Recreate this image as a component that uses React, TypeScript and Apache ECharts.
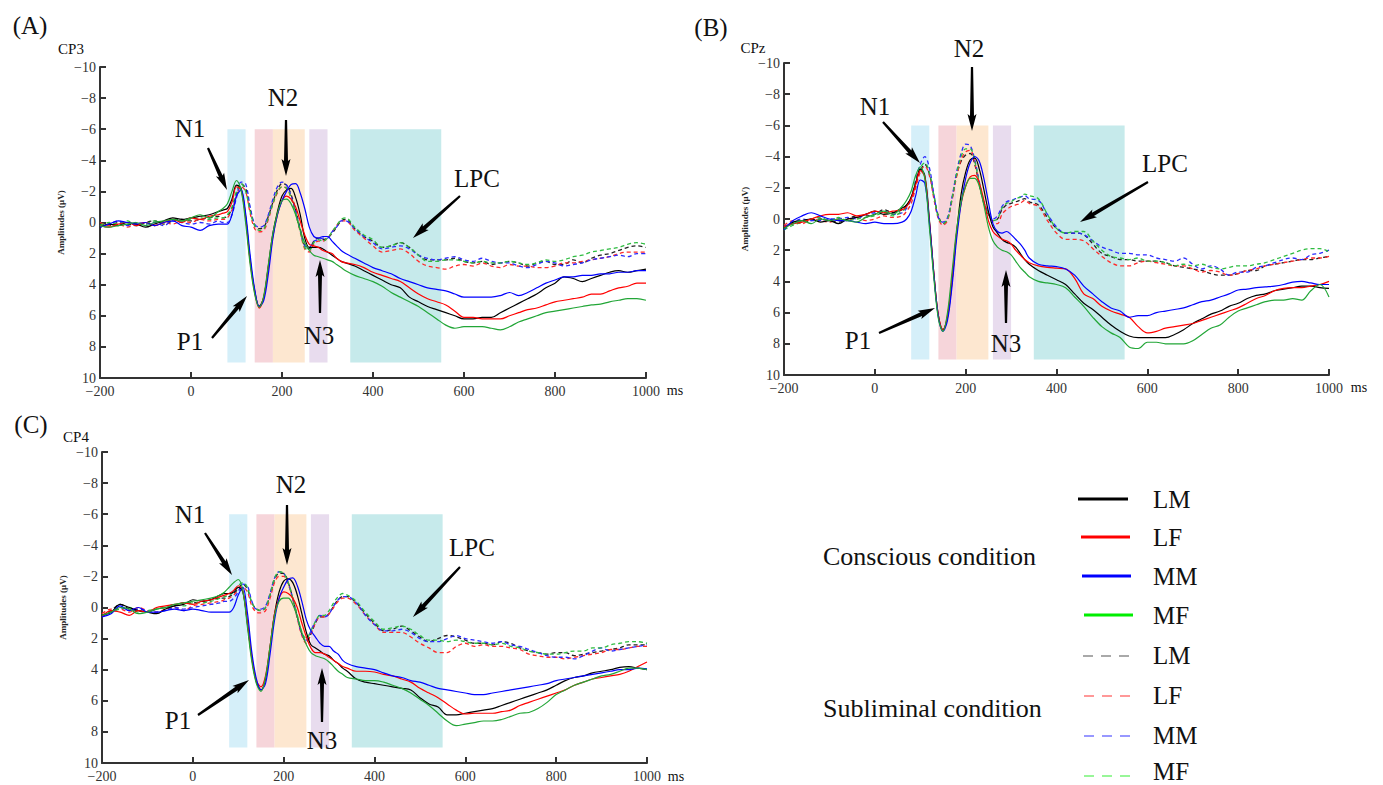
import React, { useEffect, useRef } from "react";
import * as echarts from "echarts";

// time points (ms)
const T = [
  -200, -180, -160, -140, -120, -100, -80, -60, -40, -20, 0, 20, 40,
  60, 70, 80, 90, 100, 110, 120, 130, 140, 150, 160, 170, 180, 190, 200, 210, 220, 230, 240, 250, 260, 270, 280, 290, 300, 310, 320, 330, 340,
  360, 380, 400, 420, 440, 460, 480, 500, 520, 540, 560, 580, 600, 620, 640, 660, 680, 700, 720, 740, 760, 780, 800, 820, 840, 860, 880, 900, 920, 940, 960, 980, 1000,
];

const xTicks = [-200, 0, 200, 400, 600, 800, 1000];
const yTicks = [-10, -8, -6, -4, -2, 0, 2, 4, 6, 8, 10];

// ---------- Panel A (CP3) ----------
const A_LM_c = [
  0.3, 0.1, 0.2, 0.0, 0.1, 0.3, 0.1, -0.1, -0.3, -0.2, -0.3, -0.4, -0.5,
  -0.7, -0.8, -0.9, -1.5, -2.4, -2.2, -0.4, 2.4, 4.4, 5.4, 4.8, 2.8, 0.7, -0.7, -1.7, -2.1, -2.2, -1.6, -0.5, 1.0, 1.6, 1.6, 1.6, 1.7, 1.9, 2.1, 2.3, 2.5, 2.6,
  2.8, 3.1, 3.4, 3.7, 4.0, 4.2, 4.8, 5.1, 5.4, 5.6, 5.8, 6.0, 6.2, 6.2, 6.1, 6.1, 5.8, 5.5, 5.2, 4.9, 4.6, 4.2, 3.9, 3.5, 3.6, 3.8, 3.6, 3.4, 3.2, 3.1, 3.2, 3.1, 3.0,
];
const A_LF_c = [
  0.2, 0.3, 0.1, 0.0, 0.2, 0.0, 0.2, 0.0, -0.2, 0.0, -0.3, -0.2, -0.4,
  -0.5, -0.6, -0.7, -1.3, -2.3, -2.1, -0.3, 2.5, 4.5, 5.5, 4.8, 2.9, 0.9, -0.5, -1.4, -1.7, -1.5, -1.0, -0.1, 0.8, 1.4, 1.5, 1.6, 1.8, 1.9, 2.0, 2.3, 2.5, 2.6,
  2.7, 2.9, 3.2, 3.4, 3.6, 3.8, 4.2, 4.6, 4.9, 5.1, 5.3, 5.7, 6.1, 6.1, 6.2, 6.2, 6.2, 6.0, 5.8, 5.6, 5.5, 5.3, 5.1, 5.0, 4.9, 4.8, 4.6, 4.6, 4.4, 4.2, 4.1, 3.9, 3.9,
];
const A_MM_c = [
  0.3, 0.1, -0.1, 0.0, 0.1, 0.0, 0.2, 0.0, -0.1, 0.2, 0.3, 0.5, 0.2,
  0.1, 0.1, 0.1, -0.5, -1.7, -2.1, -0.6, 2.1, 4.3, 5.4, 5.0, 3.3, 1.0, -0.5, -1.4, -2.0, -2.45, -2.5, -1.9, -0.9, 0.3, 0.9, 1.0, 0.9, 0.9, 1.2, 1.5, 1.8, 2.0,
  2.3, 2.6, 2.9, 3.1, 3.3, 3.6, 3.8, 4.0, 4.2, 4.3, 4.4, 4.6, 4.8, 4.8, 4.8, 4.8, 4.7, 4.5, 4.7, 4.5, 4.2, 3.9, 3.7, 3.5, 3.5, 3.4, 3.4, 3.3, 3.3, 3.2, 3.2, 3.1, 3.1,
];
const A_MF_c = [
  0.2, 0.3, 0.2, 0.1, 0.0, 0.2, 0.0, -0.1, -0.2, -0.1, -0.3, -0.5, -0.3,
  -0.7, -0.9, -1.2, -2.0, -2.7, -2.1, 0.0, 2.7, 4.6, 5.45, 4.7, 2.7, 0.7, -0.6, -1.4, -1.5, -1.2, -0.5, 0.5, 1.3, 1.8, 2.1, 2.2, 2.3, 2.4, 2.5, 2.7, 2.9, 3.1,
  3.4, 3.6, 3.8, 4.1, 4.5, 4.8, 5.1, 5.4, 5.8, 6.2, 6.6, 6.8, 6.7, 6.7, 6.7, 6.8, 6.9, 6.7, 6.4, 6.2, 6.0, 5.8, 5.7, 5.6, 5.5, 5.4, 5.3, 5.25, 5.1, 5.0, 4.9, 4.9, 5.0,
];
const A_LM_s = [
  0.1, 0.2, 0.0, 0.1, 0.2, 0.0, -0.1, 0.1, -0.1, -0.2, -0.1, -0.2, -0.3,
  -0.4, -0.3, -0.4, -0.9, -1.8, -2.5, -2.2, -0.9, 0.2, 0.4, 0.3, -0.4, -1.3, -2.1, -2.5, -2.4, -1.8, -0.8, 0.4, 1.5, 1.7, 1.2, 1.0, 1.1, 1.0, 0.7, 0.3, -0.1, -0.2,
  0.4, 0.9, 1.2, 1.6, 1.5, 1.3, 1.6, 2.1, 2.4, 2.4, 2.4, 2.3, 2.5, 2.6, 2.5, 2.7, 2.6, 2.5, 2.6, 2.8, 2.6, 2.5, 2.7, 2.7, 2.4, 2.6, 2.3, 2.1, 2.0, 1.8, 1.6, 1.5, 1.6,
];
const A_LF_s = [
  0.0, 0.2, 0.1, 0.3, 0.1, 0.0, 0.2, 0.0, 0.1, -0.1, 0.0, -0.2, -0.1,
  -0.2, -0.2, -0.3, -0.8, -1.7, -2.3, -2.0, -0.6, 0.4, 0.6, 0.5, -0.2, -1.2, -1.9, -2.3, -2.2, -1.6, -0.6, 0.6, 1.7, 1.9, 1.4, 1.2, 1.2, 1.0, 0.6, 0.2, -0.1, -0.1,
  0.5, 1.0, 1.5, 1.9, 1.8, 1.7, 2.0, 2.5, 2.8, 2.9, 3.0, 2.8, 2.7, 2.8, 2.6, 2.8, 2.9, 2.7, 2.8, 2.8, 2.9, 2.9, 2.8, 2.6, 2.6, 2.5, 2.4, 2.3, 2.2, 2.0, 1.9, 1.9, 1.9,
];
const A_MM_s = [
  0.3, 0.1, -0.1, 0.2, 0.0, 0.1, 0.0, 0.2, -0.1, 0.0, 0.1, 0.0, 0.1,
  -0.1, 0.0, 0.0, -0.5, -1.6, -2.6, -2.5, -1.0, 0.1, 0.3, 0.2, -0.5, -1.5, -2.3, -2.6, -2.4, -1.7, -0.7, 0.5, 1.5, 1.6, 1.2, 1.1, 1.0, 1.0, 0.6, 0.3, -0.1, -0.1,
  0.4, 0.9, 1.3, 1.7, 1.6, 1.5, 1.7, 2.1, 2.3, 2.4, 2.3, 2.2, 2.4, 2.5, 2.3, 2.5, 2.6, 2.6, 2.8, 2.9, 2.7, 2.5, 2.6, 2.8, 2.7, 2.6, 2.4, 2.3, 2.2, 2.1, 2.2, 2.0, 2.0,
];
const A_MF_s = [
  0.2, 0.0, 0.1, -0.1, 0.2, 0.1, -0.1, 0.0, -0.2, -0.1, -0.2, -0.3, -0.2,
  -0.3, -0.3, -0.5, -1.0, -2.0, -2.5, -2.0, -0.7, 0.2, 0.5, 0.4, -0.3, -1.2, -2.0, -2.3, -2.2, -1.6, -0.6, 0.5, 1.6, 1.8, 1.3, 1.1, 1.2, 1.0, 0.6, 0.2, -0.2, -0.3,
  0.3, 0.8, 1.1, 1.6, 1.5, 1.3, 1.6, 2.1, 2.5, 2.5, 2.4, 2.4, 2.5, 2.6, 2.5, 2.6, 2.6, 2.5, 2.6, 2.7, 2.6, 2.4, 2.5, 2.4, 2.2, 2.1, 1.9, 1.8, 1.7, 1.6, 1.4, 1.3, 1.4,
];

// ---------- Panel B (CPz) ----------
const B_LM_c = [
  0.6, 0.2, 0.1, 0.0, 0.2, 0.1, 0.3, 0.0, -0.1, -0.3, -0.5, -0.3, -0.4,
  -0.7, -0.9, -1.4, -2.3, -3.2, -2.8, 0.0, 3.5, 6.2, 7.1, 6.3, 4.0, 0.9, -1.6, -3.0, -3.8, -3.9, -3.2, -1.9, -0.5, 0.5, 0.9, 1.3, 1.5, 1.6, 1.8, 2.2, 2.6, 2.9,
  3.3, 3.6, 3.9, 4.2, 4.8, 5.4, 5.8, 6.3, 6.8, 7.2, 7.5, 7.6, 7.6, 7.6, 7.6, 7.4, 7.1, 6.7, 6.4, 6.1, 5.9, 5.6, 5.4, 5.1, 4.9, 4.8, 4.6, 4.5, 4.4, 4.3, 4.3, 4.4, 4.45,
];
const B_LF_c = [
  0.5, 0.3, 0.2, 0.0, -0.2, -0.3, -0.3, -0.4, -0.2, -0.3, -0.5, -0.4, -0.5,
  -0.6, -0.8, -1.3, -2.2, -3.1, -2.7, 0.1, 3.5, 6.2, 7.1, 6.2, 3.8, 0.9, -1.0, -2.1, -2.7, -2.8, -2.3, -1.2, 0.1, 0.8, 1.1, 1.3, 1.4, 1.6, 2.0, 2.3, 2.6, 2.8,
  3.0, 3.1, 3.15, 3.2, 3.8, 4.8, 5.1, 5.6, 5.9, 6.1, 6.3, 6.9, 7.3, 7.2, 7.0, 6.9, 6.8, 6.7, 6.5, 6.3, 6.1, 5.9, 5.7, 5.4, 5.1, 4.9, 4.6, 4.45, 4.4, 4.4, 4.3, 4.2, 4.0,
];
const B_MM_c = [
  0.7, 0.1, -0.2, -0.4, -0.2, 0.0, 0.1, 0.1, 0.2, 0.3, 0.2, 0.3, 0.3,
  0.2, 0.0, -0.5, -1.5, -2.5, -2.3, 0.2, 3.6, 6.3, 7.2, 6.5, 4.3, 1.3, -1.0, -2.6, -3.6, -4.0, -3.7, -2.6, -1.1, 0.3, 0.8, 0.9, 0.8, 1.0, 1.3, 1.6, 2.0, 2.5,
  2.9, 3.0, 3.05, 3.2, 3.6, 4.3, 4.8, 5.3, 5.7, 5.9, 6.3, 6.2, 6.2, 6.0, 5.9, 5.8, 5.7, 5.5, 5.3, 5.2, 5.0, 4.8, 4.55, 4.5, 4.4, 4.35, 4.3, 4.2, 4.05, 4.0, 4.1, 4.2, 4.2,
];
const B_MF_c = [
  0.6, 0.3, 0.1, 0.3, 0.0, 0.1, 0.0, 0.1, 0.2, -0.1, -0.3, -0.5, -0.3,
  -0.8, -1.2, -1.8, -2.8, -3.35, -2.6, 0.5, 3.8, 6.4, 7.2, 6.0, 3.4, 0.7, -1.1, -2.1, -2.6, -2.6, -2.1, -0.9, 0.5, 1.4, 1.8, 2.0, 2.1, 2.3, 2.7, 3.1, 3.4, 3.7,
  4.0, 4.1, 4.2, 4.4, 5.0, 5.6, 6.3, 6.9, 7.3, 7.6, 8.2, 8.3, 7.9, 7.9, 8.0, 8.0, 8.0, 7.8, 7.4, 7.0, 6.8, 6.3, 5.9, 5.7, 5.5, 5.3, 5.2, 5.2, 5.1, 5.2, 4.6, 4.2, 5.0,
];
const B_LM_s = [
  0.5, 0.3, 0.2, 0.1, 0.0, 0.1, 0.2, 0.0, -0.2, -0.2, -0.3, -0.6, -0.4,
  -0.6, -0.9, -1.3, -2.2, -3.1, -3.5, -2.9, -1.5, -0.2, 0.3, 0.0, -1.3, -2.8, -3.7, -4.1, -4.2, -3.5, -2.2, -1.0, -0.3, 0.1, 0.0, -0.6, -0.9, -1.0, -1.1, -1.2, -1.3, -1.1,
  -0.9, -0.1, 0.6, 0.9, 0.9, 1.0, 1.6, 2.2, 2.4, 2.6, 2.6, 2.7, 2.7, 2.7, 2.8, 3.0, 3.1, 3.2, 3.3, 3.5, 3.6, 3.6, 3.5, 3.3, 3.3, 3.0, 2.9, 2.8, 2.7, 2.6, 2.6, 2.5, 2.4,
];
const B_LF_s = [
  0.4, 0.1, 0.3, 0.0, 0.1, 0.2, 0.0, 0.1, -0.1, 0.1, 0.0, -0.2, -0.1,
  -0.2, -0.5, -1.0, -2.0, -3.0, -3.4, -2.8, -1.3, 0.0, 0.4, 0.1, -1.2, -2.7, -3.8, -4.3, -4.4, -3.6, -2.3, -1.1, -0.4, 0.2, 0.3, -0.3, -0.6, -0.8, -0.9, -1.0, -1.2, -1.0,
  -0.8, 0.1, 0.9, 1.3, 1.3, 1.4, 1.9, 2.4, 2.8, 3.0, 3.0, 2.8, 2.7, 2.8, 2.9, 3.0, 3.0, 3.2, 3.4, 3.3, 3.4, 3.6, 3.5, 3.3, 3.2, 3.0, 2.9, 2.8, 2.7, 2.6, 2.5, 2.5, 2.4,
];
const B_MM_s = [
  0.5, 0.2, 0.0, 0.1, 0.1, 0.0, 0.0, -0.1, 0.0, -0.3, -0.4, -0.5, -0.3,
  -0.4, -0.7, -1.3, -2.5, -3.5, -4.0, -3.3, -1.6, -0.1, 0.2, -0.1, -1.4, -3.0, -4.2, -4.8, -4.7, -3.8, -2.4, -1.1, -0.4, 0.0, -0.2, -0.8, -1.1, -1.2, -1.3, -1.4, -1.5, -1.3,
  -1.2, -0.3, 0.5, 0.9, 0.9, 1.0, 1.4, 1.8, 2.0, 2.2, 2.2, 2.3, 2.3, 2.5, 2.6, 2.7, 2.5, 2.9, 3.2, 3.0, 3.2, 3.6, 3.4, 3.4, 3.1, 3.0, 2.8, 2.6, 2.5, 2.6, 2.3, 2.2, 2.0,
];
const B_MF_s = [
  0.7, 0.4, 0.2, 0.0, -0.1, 0.1, -0.1, 0.1, 0.0, -0.1, -0.2, -0.4, -0.2,
  -0.5, -0.8, -1.4, -2.4, -3.3, -3.6, -3.0, -1.5, -0.1, 0.3, 0.0, -1.3, -2.9, -4.0, -4.5, -4.5, -3.7, -2.3, -1.0, -0.3, 0.1, 0.0, -0.7, -1.0, -1.1, -1.3, -1.4, -1.6, -1.5,
  -1.3, -0.3, 0.6, 0.9, 0.8, 0.8, 1.4, 2.0, 2.4, 2.5, 2.6, 2.5, 2.7, 2.7, 2.8, 3.0, 2.9, 3.0, 2.9, 3.1, 3.2, 3.1, 3.0, 3.0, 2.9, 2.8, 2.6, 2.4, 2.2, 2.0, 1.9, 1.9, 2.1,
];

// ---------- Panel C (CP4) ----------
const C_LM_c = [
  0.5, 0.3, -0.2, 0.0, 0.2, 0.3, 0.4, 0.1, -0.1, -0.2, -0.5, -0.4, -0.5,
  -0.8, -0.9, -0.9, -1.0, -1.3, -1.0, 1.0, 3.3, 4.8, 5.3, 4.6, 2.6, 0.4, -1.0, -1.7, -1.85, -1.6, -0.8, 0.4, 1.6, 2.4, 2.6, 2.8, 3.0, 3.1, 3.4, 3.6, 3.9, 4.1,
  4.6, 4.8, 4.9, 5.0, 5.1, 5.2, 5.3, 5.8, 6.2, 6.4, 6.9, 6.9, 6.8, 6.7, 6.6, 6.5, 6.3, 6.1, 5.9, 5.7, 5.5, 5.3, 5.0, 4.7, 4.5, 4.4, 4.2, 4.1, 4.0, 3.85, 3.8, 3.9, 4.0,
];
const C_LF_c = [
  0.6, 0.2, 0.3, 0.5, 0.2, 0.3, 0.0, -0.1, -0.2, -0.3, -0.2, -0.4, -0.5,
  -0.7, -0.8, -0.9, -1.1, -1.4, -1.1, 0.9, 3.2, 4.7, 5.1, 4.4, 2.5, 0.4, -0.6, -1.0, -0.9, -0.6, 0.0, 1.0, 1.9, 2.6, 2.9, 2.9, 3.0, 3.2, 3.4, 3.6, 3.8, 3.9,
  4.1, 4.1, 4.15, 4.3, 4.4, 4.6, 4.8, 5.2, 5.5, 5.8, 6.2, 6.6, 6.85, 6.8, 6.8, 6.8, 6.7, 6.6, 6.3, 6.1, 5.9, 5.7, 5.5, 5.3, 5.0, 4.8, 4.6, 4.5, 4.4, 4.3, 4.1, 3.8, 3.5,
];
const C_MM_c = [
  0.6, 0.4, -0.1, 0.2, 0.0, 0.3, 0.3, 0.2, 0.1, 0.2, 0.1, 0.2, 0.3,
  0.3, 0.3, 0.3, 0.0, -0.8, -1.3, 0.3, 2.9, 4.6, 5.3, 4.9, 3.0, 0.8, -0.6, -1.3, -1.8, -1.9, -1.4, -0.4, 0.8, 1.5, 1.9, 2.3, 2.5, 2.5, 2.8, 3.0, 3.4, 3.6,
  3.8, 3.9, 4.0, 4.2, 4.4, 4.5, 4.7, 4.8, 5.0, 5.2, 5.3, 5.4, 5.5, 5.6, 5.6, 5.5, 5.4, 5.3, 5.2, 5.1, 5.0, 4.9, 4.7, 4.6, 4.5, 4.4, 4.3, 4.2, 4.1, 4.0, 4.0, 3.9, 3.95,
];
const C_MF_c = [
  0.5, 0.3, 0.0, 0.1, 0.4, 0.3, 0.1, 0.0, -0.2, -0.3, -0.4, -0.5, -0.6,
  -0.8, -1.0, -1.3, -1.6, -1.8, -1.1, 1.2, 3.5, 4.9, 5.4, 4.5, 2.5, 0.5, -0.4, -0.6, -0.6, -0.2, 0.6, 1.6, 2.4, 2.9, 3.1, 3.2, 3.3, 3.5, 3.8, 4.1, 4.3, 4.5,
  4.6, 4.7, 4.7, 4.8, 5.0, 5.2, 5.5, 5.9, 6.3, 6.8, 7.3, 7.6, 7.5, 7.4, 7.3, 7.3, 7.2, 7.0, 6.8, 6.75, 6.5, 6.1, 5.6, 5.3, 5.0, 4.8, 4.6, 4.4, 4.3, 4.1, 3.9, 3.9, 4.0,
];
const C_LM_s = [
  0.5, 0.2, -0.2, 0.1, 0.2, 0.3, 0.1, 0.0, -0.1, -0.3, -0.3, -0.4, -0.5,
  -0.6, -0.6, -0.7, -0.9, -1.2, -1.5, -1.2, -0.3, 0.1, 0.2, 0.0, -0.8, -1.8, -2.2, -2.2, -1.6, -0.6, 0.6, 1.7, 2.2, 1.7, 1.0, 0.6, 0.6, 0.4, -0.1, -0.5, -0.7, -0.7,
  -0.3, 0.4, 1.0, 1.5, 1.4, 1.2, 1.5, 1.9, 2.2, 2.0, 1.8, 1.9, 2.1, 2.3, 2.3, 2.4, 2.2, 2.3, 2.6, 2.8, 2.9, 3.0, 2.9, 2.9, 3.1, 3.0, 2.9, 2.8, 2.7, 2.6, 2.4, 2.4, 2.4,
];
const C_LF_s = [
  0.4, 0.1, 0.1, 0.3, 0.0, 0.2, 0.3, 0.1, 0.0, 0.2, -0.1, -0.2, -0.3,
  -0.4, -0.5, -0.6, -0.8, -1.1, -1.3, -1.0, -0.1, 0.3, 0.35, 0.2, -0.6, -1.6, -2.0, -2.0, -1.5, -0.5, 0.7, 1.8, 2.3, 1.7, 1.0, 0.6, 0.6, 0.4, 0.0, -0.4, -0.6, -0.6,
  -0.2, 0.5, 1.1, 1.6, 1.6, 1.6, 1.9, 2.3, 2.6, 2.9, 2.9, 2.5, 2.3, 2.5, 2.4, 2.5, 2.5, 2.6, 2.7, 3.0, 3.1, 3.2, 3.2, 3.3, 3.2, 3.1, 3.0, 2.9, 2.7, 2.7, 2.6, 2.5, 2.5,
];
const C_MM_s = [
  0.6, 0.3, 0.0, 0.2, 0.1, 0.2, 0.3, 0.2, 0.0, 0.1, 0.0, -0.1, -0.2,
  -0.3, -0.4, -0.4, -0.6, -1.0, -1.5, -1.4, -0.4, 0.1, 0.1, -0.1, -0.9, -1.9, -2.3, -2.2, -1.6, -0.6, 0.6, 1.7, 2.1, 1.5, 0.9, 0.5, 0.6, 0.4, -0.1, -0.5, -0.7, -0.7,
  -0.3, 0.5, 1.1, 1.5, 1.5, 1.4, 1.6, 2.0, 2.2, 2.2, 2.0, 1.8, 2.0, 2.1, 2.2, 2.3, 2.2, 2.4, 2.5, 2.7, 2.9, 3.1, 3.2, 3.2, 3.3, 3.1, 2.8, 2.6, 2.8, 2.7, 2.6, 2.5, 2.4,
];
const C_MF_s = [
  0.5, 0.3, 0.1, 0.0, 0.3, 0.2, 0.1, 0.0, -0.2, -0.1, -0.3, -0.3, -0.4,
  -0.6, -0.7, -0.8, -1.0, -1.4, -1.6, -1.3, -0.3, 0.1, 0.2, 0.0, -0.8, -1.9, -2.3, -2.2, -1.6, -0.6, 0.5, 1.6, 2.0, 1.5, 0.9, 0.5, 0.5, 0.2, -0.3, -0.7, -0.9, -0.8,
  -0.4, 0.3, 0.9, 1.4, 1.3, 1.2, 1.4, 1.8, 2.1, 2.1, 2.2, 2.1, 2.2, 2.3, 2.3, 2.4, 2.3, 2.5, 2.6, 2.8, 2.9, 3.0, 3.0, 2.9, 2.8, 2.8, 2.6, 2.6, 2.4, 2.3, 2.2, 2.2, 2.3,
];

const conditions = ["LM", "LF", "MM", "MF"];
const panels = [
  { letter: "(A)", site: "CP3", conscious: [A_LM_c, A_LF_c, A_MM_c, A_MF_c], subliminal: [A_LM_s, A_LF_s, A_MM_s, A_MF_s] },
  { letter: "(B)", site: "CPz", conscious: [B_LM_c, B_LF_c, B_MM_c, B_MF_c], subliminal: [B_LM_s, B_LF_s, B_MM_s, B_MF_s] },
  { letter: "(C)", site: "CP4", conscious: [C_LM_c, C_LF_c, C_MM_c, C_MF_c], subliminal: [C_LM_s, C_LF_s, C_MM_s, C_MF_s] },
];

// time windows of the components (ms) and their shading
const windows = [
  { from: 80, to: 120, color: "#d5eff9" },
  { from: 140, to: 180, color: "#f6d5da" },
  { from: 180, to: 250, color: "#fde7d0" },
  { from: 260, to: 300, color: "#e8dcee" },
  { from: 350, to: 550, color: "#c6eaeb" },
];
const windowRange = [-6, 9];

const FONT = "Liberation Serif, Times New Roman, serif";
const solidColors = ["#000000", "#ff0000", "#0000ff", "#22a637"];
const dashedColors = ["#222222", "#ff2a2a", "#2a2aff", "#2ebc40"];

// layout (pixels)
const gridBoxes = [
  { left: 100, top: 67, width: 546, height: 311 },
  { left: 784, top: 63, width: 545, height: 312 },
  { left: 102, top: 452, width: 545, height: 311 },
];
const headerPos = [
  { letter: [30, 25], site: [71, 49], ms: [675, 390] },
  { letter: [711, 27], site: [753, 48], ms: [1359, 387] },
  { letter: [31, 424], site: [76, 437], ms: [676, 776] },
];
// annotation labels and arrows: [label, tx, ty, x1, y1, x2, y2]
const annotations = [
  [
    ["N1", 190, 128, 208, 148, 227, 190],
    ["N2", 283, 97, 286, 120, 286, 176],
    ["P1", 190, 341, 212, 338, 247, 296],
    ["N3", 319, 335, 320, 313, 320, 260],
    ["LPC", 477, 178, 460, 196, 413, 238],
  ],
  [
    ["N1", 875, 106, 883, 122, 920, 163],
    ["N2", 969, 48, 972, 67, 972, 131],
    ["P1", 858, 340, 879, 333, 935, 308],
    ["N3", 1006, 343, 1006, 323, 1006, 270],
    ["LPC", 1165, 163, 1148, 182, 1080, 222],
  ],
  [
    ["N1", 190, 514, 205, 533, 232, 575],
    ["N2", 291, 484, 287, 505, 287, 565],
    ["P1", 178, 720, 198, 715, 249, 680],
    ["N3", 322, 740, 322, 722, 322, 668],
    ["LPC", 472, 547, 460, 567, 413, 617],
  ],
];

function arrow(x1: number, y1: number, x2: number, y2: number) {
  const dx = x2 - x1, dy = y2 - y1;
  const L = Math.hypot(dx, dy);
  const ux = dx / L, uy = dy / L;
  const nx = -uy, ny = ux;
  const headLen = 15, headW = 4.5, tailW = 1.1, neckW = 2.0;
  const bx = x2 - ux * headLen, by = y2 - uy * headLen;
  const pts = [
    [x1 + nx * tailW, y1 + ny * tailW],
    [bx + nx * neckW, by + ny * neckW],
    [bx + nx * headW - ux * 2, by + ny * headW - uy * 2],
    [x2, y2],
    [bx - nx * headW - ux * 2, by - ny * headW - uy * 2],
    [bx - nx * neckW, by - ny * neckW],
    [x1 - nx * tailW, y1 - ny * tailW],
  ];
  return { type: "polygon", silent: true, z: 100, shape: { points: pts }, style: { fill: "#000" } };
}

function txt(text: string, x: number, y: number, size: number, align = "center") {
  return {
    type: "text",
    silent: true,
    z: 100,
    x,
    y,
    style: { text, fill: "#111", fontSize: size, fontFamily: FONT, align, verticalAlign: "middle" },
  };
}

const minus = (v: number) => (v < 0 ? "\u2212" + Math.abs(v) : String(v));

export default function App() {
  const ref = useRef<HTMLDivElement>(null);
  useEffect(() => {
    if (!ref.current) return;
    const chart = echarts.init(ref.current, null, { renderer: "svg" });
    const axisLineStyle = { color: "#333", width: 2 };
    const xAxis = gridBoxes.map((_, i) => ({
      type: "value",
      gridIndex: i,
      min: -200,
      max: 1000,
      interval: 200,
      axisLine: { show: true, onZero: false, lineStyle: axisLineStyle },
      axisTick: { show: true, inside: true, length: 6, lineStyle: axisLineStyle },
      axisLabel: { color: "#333", fontFamily: FONT, fontSize: 14, margin: 6, formatter: (v: number) => (xTicks.includes(v) ? minus(v) : "") },
      splitLine: { show: false },
    }));
    const yAxis = gridBoxes.map((_, i) => ({
      type: "value",
      gridIndex: i,
      inverse: true,
      min: -10,
      max: 10,
      interval: 2,
      name: "Amplitudes (\u03bcV)",
      nameLocation: "middle",
      nameGap: 35,
      nameRotate: 90,
      nameTextStyle: { fontFamily: FONT, fontSize: 9, fontWeight: "bold", color: "#222" },
      axisLine: { show: true, onZero: false, lineStyle: axisLineStyle },
      axisTick: { show: true, inside: true, length: 6, lineStyle: axisLineStyle },
      axisLabel: { color: "#333", fontFamily: FONT, fontSize: 14, margin: 4, formatter: (v: number) => (yTicks.includes(v) ? minus(v) : "") },
      splitLine: { show: false },
    }));

    const series: any[] = [];
    panels.forEach((p, i) => {
      series.push({
        type: "line",
        name: "windows-" + i,
        xAxisIndex: i,
        yAxisIndex: i,
        data: [],
        silent: true,
        markArea: {
          silent: true,
          itemStyle: { opacity: 1 },
          data: windows.map((w) => [
            { xAxis: w.from, yAxis: windowRange[0], itemStyle: { color: w.color } },
            { xAxis: w.to, yAxis: windowRange[1] },
          ]),
        },
      });
      p.subliminal.forEach((vals, k) => {
        series.push({
          type: "line",
          name: conditions[k] + " subliminal",
          xAxisIndex: i,
          yAxisIndex: i,
          data: T.map((t, j) => [t, vals[j]]),
          smooth: 0.35,
          showSymbol: false,
          silent: true,
          z: 3,
          lineStyle: { color: dashedColors[k], width: 1.3, type: [4, 3] },
        });
      });
      p.conscious.forEach((vals, k) => {
        series.push({
          type: "line",
          name: conditions[k] + " conscious",
          xAxisIndex: i,
          yAxisIndex: i,
          data: T.map((t, j) => [t, vals[j]]),
          smooth: 0.35,
          showSymbol: false,
          silent: true,
          z: 4,
          lineStyle: { color: solidColors[k], width: 1.2 },
        });
      });
    });

    const graphic: any[] = [];
    panels.forEach((p, i) => {
      const h = headerPos[i];
      graphic.push(txt(p.letter, h.letter[0], h.letter[1], 25));
      graphic.push(txt(p.site, h.site[0], h.site[1], 15));
      graphic.push(txt("ms", h.ms[0], h.ms[1], 14));
      annotations[i].forEach((a: any) => {
        graphic.push(txt(a[0], a[1], a[2], 25));
        graphic.push(arrow(a[3], a[4], a[5], a[6]));
      });
    });

    // legend
    const legendSolid = [
      { y: 499, x1: 1078, x2: 1128, color: "#000000" },
      { y: 537, x1: 1081, x2: 1130, color: "#ff0000" },
      { y: 576, x1: 1082, x2: 1131, color: "#0000ff" },
      { y: 615, x1: 1084, x2: 1133, color: "#00ee00" },
    ];
    const legendDashed = [
      { y: 656, x1: 1083, x2: 1131, color: "#555555", ty: 655 },
      { y: 696, x1: 1084, x2: 1132, color: "#ff3333", ty: 695 },
      { y: 736, x1: 1084, x2: 1132, color: "#3333ff", ty: 735 },
      { y: 776, x1: 1084, x2: 1132, color: "#33ee33", ty: 771 },
    ];
    legendSolid.forEach((l, k) => {
      graphic.push({ type: "line", silent: true, z: 100, shape: { x1: l.x1, y1: l.y, x2: l.x2, y2: l.y }, style: { stroke: l.color, lineWidth: 3 } });
      graphic.push(txt(conditions[k], 1153, l.y, 25, "left"));
    });
    legendDashed.forEach((l, k) => {
      graphic.push({ type: "line", silent: true, z: 100, shape: { x1: l.x1, y1: l.y, x2: l.x2, y2: l.y }, style: { stroke: l.color, lineWidth: 1.2, lineDash: [10, 8] } });
      graphic.push(txt(conditions[k], 1153, l.ty, 25, "left"));
    });
    graphic.push(txt("Conscious condition", 823, 556, 26, "left"));
    graphic.push(txt("Subliminal condition", 823, 708, 26, "left"));

    chart.setOption({
      animation: false,
      backgroundColor: "#ffffff",
      textStyle: { fontFamily: FONT },
      grid: gridBoxes.map((g) => ({ ...g, containLabel: false })),
      xAxis,
      yAxis,
      series,
      graphic,
    });
    return () => chart.dispose();
  }, []);
  return <div ref={ref} style={{ position: "absolute", left: 0, top: 0, width: 1383, height: 785 }} />;
}
